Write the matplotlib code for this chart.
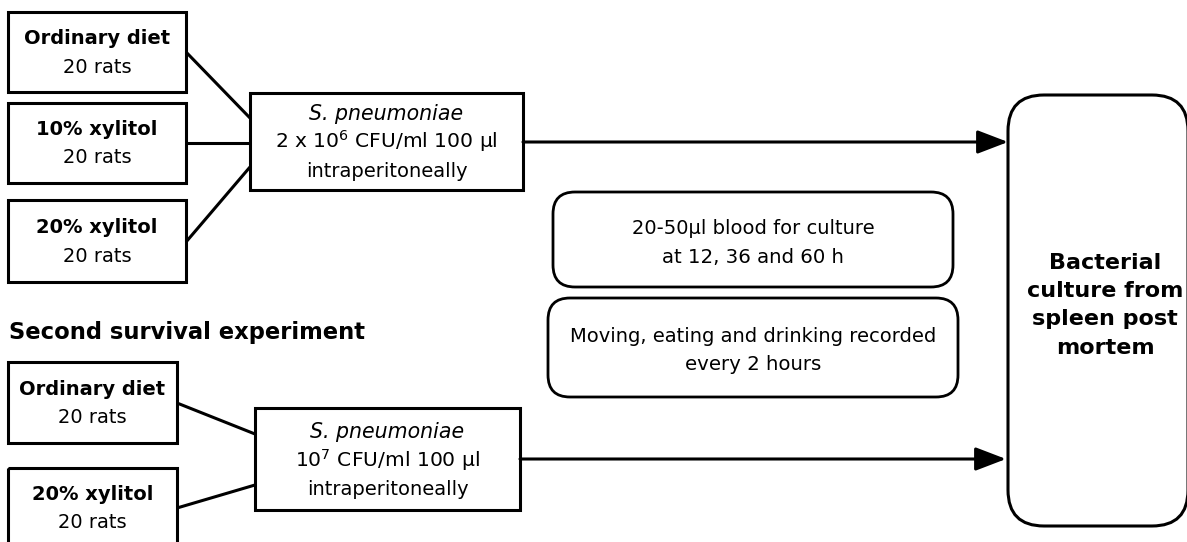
import matplotlib
matplotlib.use("Agg")
import matplotlib.pyplot as plt
from matplotlib.patches import Rectangle, FancyBboxPatch, FancyArrowPatch

# study design content
exp1_groups = ["Ordinary diet", "10% xylitol", "20% xylitol"]
exp1_rats = [20, 20, 20]
exp2_groups = ["Ordinary diet", "20% xylitol"]
exp2_rats = [20, 20]
exp1_dose = ["S. pneumoniae", "2 x 10$^{6}$ CFU/ml 100 µl", "intraperitoneally"]
exp2_dose = ["S. pneumoniae", "10$^{7}$ CFU/ml 100 µl", "intraperitoneally"]
exp2_title = "Second survival experiment"
monitoring = [["20-50µl blood for culture", "at 12, 36 and 60 h"],
              ["Moving, eating and drinking recorded", "every 2 hours"]]
endpoint = ["Bacterial", "culture from", "spleen post", "mortem"]

# layout in pixels (y grows downward)
W, H = 1187, 542
exp1_boxes = [(8, 12, 186, 92), (8, 103, 186, 183), (8, 200, 186, 282)]
exp1_text_y = [(39, 68), (130, 158), (228, 257)]
exp1_line_y = [(52, 118), (143, 143), (242, 167)]
exp2_boxes = [(8, 362, 177, 443), (8, 468, 177, 560)]
exp2_text_y = [(390, 418), (495, 523)]
exp2_line_y = [(403, 434), (508, 485)]
inj1 = (250, 93, 523, 190)
inj2 = (255, 408, 520, 510)
inj1_y = [115, 143, 172]
inj2_y = [433, 462, 490]
mon_boxes = [(553, 192, 953, 287), (548, 298, 958, 397)]
mon_text_y = [(229, 258), (337, 365)]
end_box = (1008, 95, 1188, 526)
end_text_x = 1105
end_text_y = [263, 291, 319, 348]
arrow_y = [142, 459]
arrow_tip = [1008, 1006]

FS = 14
LW = 2.2
plt.rcParams['font.family'] = ['DejaVu Sans']
plt.rcParams['mathtext.fontset'] = 'dejavusans'

fig = plt.figure(figsize=(W / 100, H / 100), dpi=100)
ax = fig.add_axes([0, 0, 1, 1])
ax.set_xlim(0, W)
ax.set_ylim(H, 0)
ax.axis('off')


def rect(b, lw=LW):
    x0, y0, x1, y1 = b
    ax.add_patch(Rectangle((x0, y0), x1 - x0, y1 - y0, fill=False, ec='black', lw=lw))


def rbox(b, r, lw=LW):
    x0, y0, x1, y1 = b
    ax.add_patch(FancyBboxPatch((x0, y0), x1 - x0, y1 - y0,
                                boxstyle=f"round,pad=0,rounding_size={r}",
                                fill=False, ec='black', lw=lw, clip_on=False))


def line_text(x, yc, s, size=FS, **kw):
    # yc is the middle of the capitals, put baseline below it
    ax.text(x, yc + size * 0.36, s, ha='center', va='baseline', fontsize=size, **kw)


def group_block(boxes, text_y, line_y, groups, rats, inj):
    for b, ty, ly, g, n in zip(boxes, text_y, line_y, groups, rats):
        rect(b)
        xc = (b[0] + b[2]) / 2
        line_text(xc, ty[0], g, fontweight='bold')
        line_text(xc, ty[1], f"{n} rats")
        ax.plot([b[2], inj[0]], [ly[0], ly[1]], color='black', lw=LW, solid_capstyle='butt')


def dose_block(inj, ys, lines):
    rect(inj)
    xc = (inj[0] + inj[2]) / 2
    line_text(xc, ys[0], lines[0], size=14.8, style='italic')
    line_text(xc, ys[1], lines[1], size=14.6)
    line_text(xc, ys[2], lines[2])


group_block(exp1_boxes, exp1_text_y, exp1_line_y, exp1_groups, exp1_rats, inj1)
group_block(exp2_boxes, exp2_text_y, exp2_line_y, exp2_groups, exp2_rats, inj2)
dose_block(inj1, inj1_y, exp1_dose)
dose_block(inj2, inj2_y, exp2_dose)

ax.text(9, 333 + 16.3 * 0.36, exp2_title, ha='left', va='baseline',
        fontsize=16.3, fontweight='bold')

for b, ty, txt in zip(mon_boxes, mon_text_y, monitoring):
    rbox(b, 22, lw=2.0)
    xc = (b[0] + b[2]) / 2
    line_text(xc, ty[0], txt[0])
    line_text(xc, ty[1], txt[1], size=14.2)

rbox(end_box, 36)
for y, s in zip(end_text_y, endpoint):
    line_text(end_text_x, y, s, size=16, fontweight='bold')

for inj, y, tip in zip([inj1, inj2], arrow_y, arrow_tip):
    ax.add_patch(FancyArrowPatch((inj[2], y), (tip, y),
                                 arrowstyle='-|>,head_length=0.94,head_width=0.36',
                                 mutation_scale=20, lw=LW, color='black',
                                 shrinkA=0, shrinkB=0))

fig.savefig("out.png", dpi=100)
